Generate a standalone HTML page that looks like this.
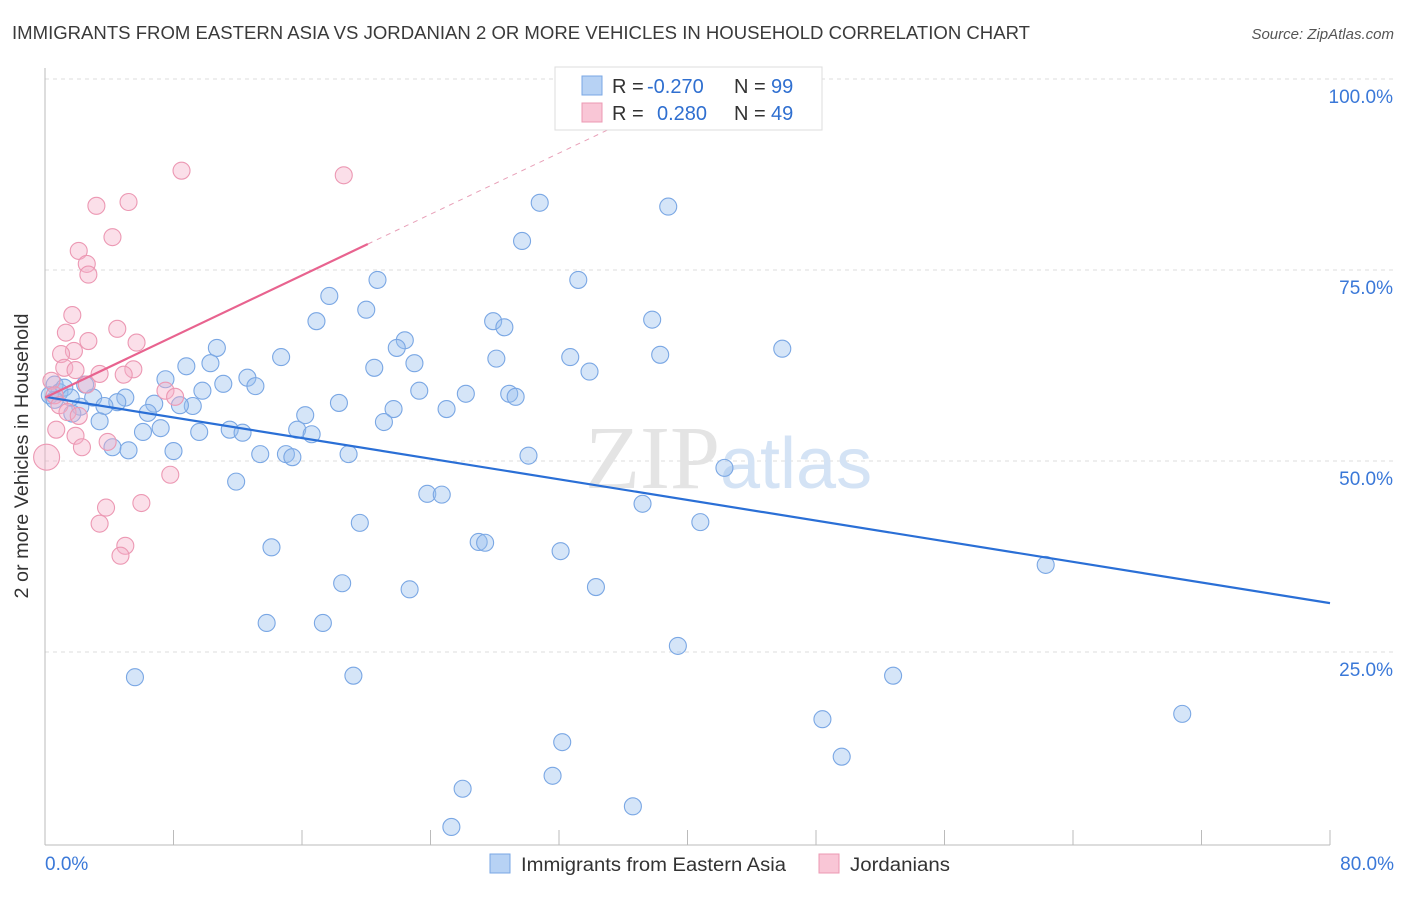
<!DOCTYPE html>
<html><head><meta charset="utf-8"><style>
body{margin:0;background:#fff;font-family:"Liberation Sans",sans-serif;}
</style></head><body>
<svg width="1406" height="892" xmlns="http://www.w3.org/2000/svg">
<text x="12" y="39" font-size="18" fill="#3a3a3a" textLength="1018" lengthAdjust="spacingAndGlyphs">IMMIGRANTS FROM EASTERN ASIA VS JORDANIAN 2 OR MORE VEHICLES IN HOUSEHOLD CORRELATION CHART</text>
<text x="1394" y="39" font-size="15" fill="#555" font-style="italic" text-anchor="end">Source: ZipAtlas.com</text>
<g id="grid"></g>
<text x="720" y="488" font-size="90" fill="#e4e4e4" text-anchor="end" font-family="Liberation Serif">ZIP</text>
<text x="720" y="488" font-size="72" fill="#d4e3f5">atlas</text>
<g id="axes"></g>
<g id="pts"></g>
<g id="trend"></g>
<text x="28" y="456" font-size="19" fill="#333" text-anchor="middle" textLength="285" lengthAdjust="spacingAndGlyphs" transform="rotate(-90 28 456)">2 or more Vehicles in Household</text>
<g>
<rect x="555" y="67" width="267" height="63" fill="#fff" stroke="#ddd"/>
<rect x="582" y="76" width="20" height="19" fill="#b7d2f4" stroke="#7aa7e4"/>
<rect x="582" y="103" width="20" height="19" fill="#f9c6d6" stroke="#ec98b3"/>
<text x="612" y="93" font-size="20" fill="#333">R = <tspan fill="#2f6fd0" x="647">-0.270</tspan></text>
<text x="734" y="93" font-size="20" fill="#333">N = <tspan fill="#2f6fd0" x="771">99</tspan></text>
<text x="612" y="120" font-size="20" fill="#333">R = <tspan fill="#2f6fd0" x="657">0.280</tspan></text>
<text x="734" y="120" font-size="20" fill="#333">N = <tspan fill="#2f6fd0" x="771">49</tspan></text>
</g>
<g>
<rect x="490" y="854" width="20" height="19" fill="#b7d2f4" stroke="#7aa7e4"/>
<text x="521" y="871" font-size="19" fill="#333" textLength="265" lengthAdjust="spacingAndGlyphs">Immigrants from Eastern Asia</text>
<rect x="819" y="854" width="20" height="19" fill="#f9c6d6" stroke="#ec98b3"/>
<text x="850" y="871" font-size="19" fill="#333" textLength="100" lengthAdjust="spacingAndGlyphs">Jordanians</text>
</g>
</svg>
<script>
const blueX=[43.1,30.8,38.8,29.7,33.2,20.7,17.7,20.0,16.9,27.9,28.6,37.8,22.4,21.9,45.9,38.3,10.7,14.7,28.1,32.7,23.0,8.8,10.3,20.5,33.9,7.5,12.6,13.1,11.1,9.8,23.3,26.2,28.9,29.3,18.3,5.0,3.0,4.5,6.8,9.2,8.4,3.7,2.2,25.0,21.7,6.4,16.2,21.1,3.4,1.7,7.2,6.1,9.6,11.5,12.3,15.7,16.6,4.2,5.2,8.0,13.4,15.0,15.4,18.9,30.1,42.3,11.9,23.8,24.7,37.2,19.6,40.8,27.0,27.4,14.1,32.1,62.3,18.5,22.7,34.3,13.8,17.3,39.4,5.6,19.2,52.8,70.8,48.4,32.2,49.6,31.6,26.0,36.6,25.3,0.6,0.9,0.3,1.2,1.6,2.5,0.6];
const blueY=[99.9,83.8,83.3,78.8,73.7,73.7,71.6,69.8,68.3,68.3,67.5,68.5,65.8,64.8,64.7,63.9,64.8,63.6,63.4,63.6,62.8,62.4,62.8,62.2,61.7,60.7,60.9,59.8,60.1,59.2,59.2,58.8,58.8,58.4,57.6,58.3,58.3,57.7,57.5,57.2,57.3,57.2,57.1,56.8,56.8,56.3,56.0,55.1,55.2,56.2,54.3,53.8,53.8,54.1,53.7,54.1,53.5,51.8,51.4,51.3,50.9,50.9,50.5,50.9,50.7,49.1,47.3,45.7,45.6,44.4,41.9,42.0,39.4,39.3,38.7,38.2,36.4,34.0,33.2,33.5,28.8,28.8,25.8,21.7,21.9,21.9,16.9,16.2,13.2,11.3,8.8,7.1,4.8,2.1,60.0,59.0,58.6,59.6,58.3,60.0,58.0];
const pinkX=[8.5,18.6,3.2,5.2,4.2,2.1,2.6,2.7,1.7,4.5,1.3,2.7,5.7,1.8,1.0,1.2,5.5,1.9,3.4,4.9,2.6,0.4,7.5,8.1,0.6,0.9,1.4,2.1,0.7,1.9,3.9,2.3,0.1,7.8,6.0,3.8,3.4,5.0,4.7];
const pinkY=[88.0,87.4,83.4,83.9,79.3,77.5,75.8,74.4,69.1,67.3,66.8,65.7,65.5,64.4,64.0,62.2,62.0,61.9,61.4,61.3,60.0,60.5,59.2,58.4,58.6,57.3,56.4,55.9,54.1,53.3,52.5,51.8,50.5,48.2,44.5,43.9,41.8,38.9,37.6];
const blueTrend=[58.4,31.4];
const pinkTrend=[58.3,78.4,20.1,41.8];
const yTicks=[25,50,75,100];
const yTickLabels=["25.0%","50.0%","75.0%","100.0%"];
const xTicks=[0,8,16,24,32,40,48,56,64,72,80];
const NS="http://www.w3.org/2000/svg";
const X=v=>45+v/80*1285, Y=v=>843-v/100*764;
function mk(t,a,p){const e=document.createElementNS(NS,t);for(const k in a)e.setAttribute(k,a[k]);p.appendChild(e);return e;}
const grid=document.getElementById('grid'),axes=document.getElementById('axes'),pts=document.getElementById('pts'),tr=document.getElementById('trend');
yTicks.forEach((v,i)=>{
 const l=mk('line',{x1:45,x2:1394,y1:Y(v),y2:Y(v),stroke:'#ddd','stroke-dasharray':'4,4'},grid);
 
 
 const t=mk('text',{x:1393,y:Y(v)+24,'font-size':19,fill:'#3a78d8','text-anchor':'end'},axes);
 t.textContent=yTickLabels[i];
 
 
});
mk('line',{x1:45,x2:45,y1:68,y2:845,stroke:'#bbb'},axes);
mk('line',{x1:45,x2:1330,y1:845,y2:845,stroke:'#bbb'},axes);
xTicks.forEach(v=>{const l=mk('line',{x1:X(v),x2:X(v),y1:830,y2:845,stroke:'#bbb'},axes);
 
 });
let t=mk('text',{x:45,y:870,'font-size':19,fill:'#3a78d8'},axes);t.textContent='0.0%';


t=mk('text',{x:1394,y:870,'font-size':19,fill:'#3a78d8','text-anchor':'end'},axes);t.textContent='80.0%';


blueX.forEach((x,i)=>{const c=mk('circle',{cx:X(x),cy:Y(blueY[i]),r:8.5,fill:'rgba(150,190,238,0.4)',stroke:'#7aa7e4','stroke-width':1.1},pts);
 
 });
pinkX.forEach((x,i)=>{const c=mk('circle',{cx:X(x),cy:Y(pinkY[i]),r:i==32?13:8.5,fill:'rgba(245,175,200,0.4)',stroke:'#ec98b3','stroke-width':1.1},pts);
 
 });
let l=mk('line',{x1:X(0),y1:Y(blueTrend[0]),x2:X(80),y2:Y(blueTrend[1]),stroke:'#2a6fd6','stroke-width':2.2},tr);


const ps=(pinkTrend[1]-pinkTrend[0])/pinkTrend[2];
l=mk('line',{x1:X(0),y1:Y(pinkTrend[0]),x2:X(pinkTrend[2]),y2:Y(pinkTrend[1]),stroke:'#e8638f','stroke-width':2.2},tr);


l=mk('line',{x1:X(pinkTrend[2]),y1:Y(pinkTrend[1]),x2:X(pinkTrend[3]),y2:Y(pinkTrend[0]+ps*pinkTrend[3]),stroke:'#e8a0b8','stroke-width':1,'stroke-dasharray':'5,5'},tr);


</script>
</body></html>
